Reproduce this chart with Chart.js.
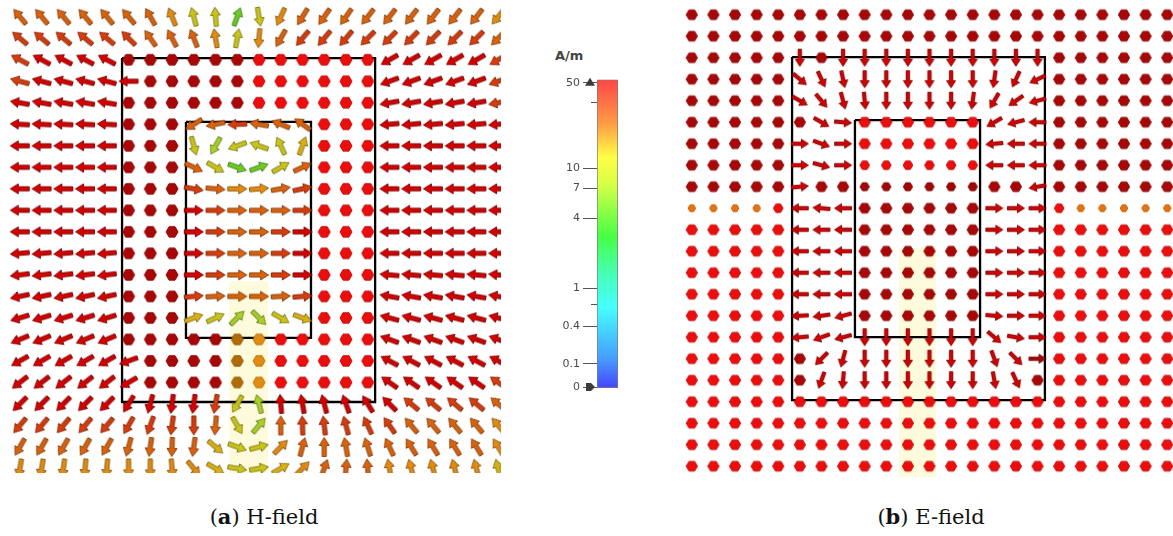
<!DOCTYPE html>
<html>
<head>
<meta charset="utf-8">
<script src="https://cdn.jsdelivr.net/npm/chart.js@4.4.1/dist/chart.umd.min.js"></script>
<style>
  html, body { margin: 0; padding: 0; background: #fff; }
  #wrap { position: relative; width: 1173px; height: 536px; overflow: hidden; }
  #wrap canvas { position: absolute; }
  .cap { position: absolute; top: 504px; font: 21px "DejaVu Serif", serif; color: #111; transform: translateX(-50%); white-space: nowrap; }
  #unit { position: absolute; left: 555px; top: 48px; font: bold 13px "DejaVu Sans", sans-serif; color: #444; }
</style>
</head>
<body>
<div id="wrap">
  <canvas id="hField" width="492" height="467" style="left:9px; top:6px"></canvas>
  <canvas id="colorBar" width="80" height="330" style="left:545px; top:70px"></canvas>
  <canvas id="eField" width="497" height="473" style="left:681px; top:4px"></canvas>
  <div id="unit">A/m</div>
  <div class="cap" style="left:264px">(<b>a</b>) H-field</div>
  <div class="cap" style="left:931px">(<b>b</b>) E-field</div>
</div>
<script>
// arrow direction per grid cell, degrees counter-clockwise from +x; null = dot (field normal to the plane)
const N = null;

// H-field, 22 rows x 23 columns
const hAngles = [
  [130,130,130,130,130,130,120,112,105,95,70,280,245,238,235,235,232,232,232,232,232,232,230],
  [140,140,140,140,140,135,125,118,112,100,80,265,240,230,230,230,225,225,225,225,225,225,225],
  [152,152,152,152,152,N,N,N,N,N,N,N,N,N,N,N,N,210,210,210,210,210,210],
  [165,165,165,165,165,180,N,N,N,N,N,N,N,N,N,N,N,200,200,200,200,200,200],
  [170,170,170,170,170,N,N,N,N,N,N,N,N,N,N,N,N,190,190,190,190,190,190],
  [177,177,177,177,177,N,N,N,212,192,182,170,158,145,N,N,N,185,185,185,185,185,185],
  [180,180,180,180,180,N,N,N,285,240,200,160,115,70,N,N,N,180,180,180,180,180,180],
  [180,180,180,180,180,N,N,N,335,330,340,20,30,25,N,N,N,180,180,180,180,180,180],
  [180,180,180,180,180,N,N,N,350,355,0,5,10,12,N,N,N,180,180,180,180,180,180],
  [180,180,180,180,180,N,N,N,0,0,0,0,0,0,N,N,N,180,180,180,180,180,180],
  [180,180,180,180,180,N,N,N,0,0,0,0,0,0,N,N,N,180,180,180,180,180,180],
  [185,185,185,185,185,N,N,N,0,0,0,0,0,0,N,N,N,180,180,180,180,180,180],
  [187,187,187,187,187,N,N,N,0,0,0,0,0,0,N,N,N,175,175,175,175,175,175],
  [192,192,192,192,192,N,N,N,5,3,0,0,3,5,N,N,N,170,170,170,170,170,170],
  [197,197,197,197,197,N,N,N,20,25,45,315,330,340,N,N,N,165,165,165,165,165,165],
  [203,203,203,203,203,N,N,N,N,N,N,N,N,N,N,N,N,160,160,160,160,160,160],
  [210,210,210,210,210,200,N,N,N,N,N,N,N,N,N,N,N,152,152,152,152,152,152],
  [218,218,218,218,218,210,N,N,N,N,N,N,N,N,N,N,N,145,145,145,145,145,145],
  [225,225,225,225,225,238,255,262,262,260,240,105,95,100,105,110,122,135,140,140,140,140,140],
  [230,230,230,230,230,240,250,262,270,265,300,50,90,92,97,105,115,125,130,130,130,130,130],
  [240,240,240,240,240,255,262,268,262,320,340,15,45,75,90,100,108,115,122,122,122,122,122],
  [260,260,262,265,265,270,270,275,310,330,350,10,30,45,70,85,95,100,105,105,105,105,105]
];
// magnitude class per cell (see levelColors)
const hLevels = [
  'OOOOOOOoYYgYoOOOOOOOOOo',
  'rrrrrrOOOoYoOrrrrrrrrrO',
  'rRRRRDDDDDDBBBBBBRRRRRr',
  'rRRRRRDDDDDBBBBBBRRRRRr',
  'RRRRRDDDDDDBBBBBBRRRRRr',
  'RRRRRDDDOOrOOOBBBRRRRRR',
  'RRRRRDDDYGYYYyBBBRRRRRR',
  'RRRRRDDDOYggYOBBBRRRRRR',
  'RRRRRDDDrOooOrBBBRRRRRR',
  'RRRRRDDDRrOOOrBBBRRRRRR',
  'RRRRRDDDRrOOrRBBBRRRRRR',
  'RRRRRDDDRrOOrRBBBRRRRRR',
  'RRRRRDDDRrOOrRBBBRRRRRR',
  'RRRRRDDDrOOOOrBBBRRRRRR',
  'RRRRRDDDyYGGYyBBBRRRRRR',
  'RRRRRDDDDDLoBBBBBRRRRRR',
  'RRRRRRDDDDLoBBBBBRRRRRR',
  'RRRRRRDDDDLoBBBBBRRRRRr',
  'RRRRRRRRRrYGRRRRRRrrrrO',
  'rrrrrrrrrOYGOrrrrrOOOOo',
  'OOOOOOOOOyYYoOOOOOOOOOo',
  'oooooooooyYYyoOOOoooooy'
];

// E-field, 22 rows x 23 columns
const eAngles = [
  [N,N,N,N,N,N,N,N,N,N,N,N,N,N,N,N,N,N,N,N,N,N,N],
  [N,N,N,N,N,N,N,N,N,N,N,N,N,N,N,N,N,N,N,N,N,N,N],
  [N,N,N,N,N,270,N,270,270,270,270,270,270,270,270,270,270,N,N,N,N,N,N],
  [N,N,N,N,N,320,295,282,270,270,270,270,270,270,262,245,205,N,N,N,N,N,N],
  [N,N,N,N,N,330,310,285,275,270,270,270,270,262,240,215,195,N,N,N,N,N,N],
  [N,N,N,N,N,N,330,355,N,N,N,N,N,N,210,195,180,N,N,N,N,N,N],
  [N,N,N,N,N,0,340,0,N,N,N,N,N,N,185,180,180,N,N,N,N,N,N],
  [N,N,N,N,N,0,345,0,N,N,N,N,N,N,180,180,180,N,N,N,N,N,N],
  [N,N,N,N,N,5,N,N,N,N,N,N,N,N,N,N,190,N,N,N,N,N,N],
  [N,N,N,N,N,180,175,180,N,N,N,N,N,N,0,0,0,N,N,N,N,N,N],
  [N,N,N,N,N,180,180,180,N,N,N,N,N,N,0,0,0,N,N,N,N,N,N],
  [N,N,N,N,N,180,180,180,N,N,N,N,N,N,0,0,0,N,N,N,N,N,N],
  [N,N,N,N,N,180,180,180,N,N,N,N,N,N,0,0,0,N,N,N,N,N,N],
  [N,N,N,N,N,180,180,180,N,N,N,N,N,N,0,0,0,N,N,N,N,N,N],
  [N,N,N,N,N,183,188,195,N,N,N,N,N,N,355,0,0,N,N,N,N,N,N],
  [N,N,N,N,N,185,200,195,270,270,270,270,270,270,320,350,0,N,N,N,N,N,N],
  [N,N,N,N,N,N,225,255,270,270,270,270,270,270,290,315,0,N,N,N,N,N,N],
  [N,N,N,N,N,N,250,265,270,270,270,270,270,270,280,295,N,N,N,N,N,N,N],
  [N,N,N,N,N,N,N,N,N,N,N,N,N,N,N,N,N,N,N,N,N,N,N],
  [N,N,N,N,N,N,N,N,N,N,N,N,N,N,N,N,N,N,N,N,N,N,N],
  [N,N,N,N,N,N,N,N,N,N,N,N,N,N,N,N,N,N,N,N,N,N,N],
  [N,N,N,N,N,N,N,N,N,N,N,N,N,N,N,N,N,N,N,N,N,N,N]
];
const eLevels = [
  'DDDDDDDDDDDDDDDDDDDDDDD',
  'DDDDDDDDDDDDDDDDDDDDDDD',
  'DDDDDRDRRRRRRRRRRDDDDDD',
  'DDDDDRRRRRRRRRRRRDDDDDD',
  'DDDDDRRRRRRRRRRRRDDDDDD',
  'DDDDDDRRBBBBBBRRRDDDDDD',
  'DDDDDRRRBBBBBBRRRDDDDDD',
  'DDDDDRRRbbbbbbRRRDDDDDD',
  'DDDDDRDDssssssDDRDDDDDD',
  'SSSSbRRRDDDDDDRRRbSSSSS',
  'BBBBBRRRDDDDDDRRRBBBBBB',
  'BBBBBRRRDDDDDDRRRBBBBBB',
  'BBBBBRRRDDDDDDRRRBBBBBB',
  'BBBBBRRRDDDDDDRRRBBBBBB',
  'BBBBBRRRDDDDDDRRRBBBBBB',
  'BBBBBRRRRRRRRRRRRBBBBBB',
  'BBBBBDRRRRRRRRRRDBBBBBB',
  'BBBBBDRRRRRRRRRRDBBBBBB',
  'BBBBBBBBBBBBBBBBBBBBBBB',
  'BBBBBBBBBBBBBBBBBBBBBBB',
  'BBBBBBBBBBBBBBBBBBBBBBB',
  'BBBBBBBBBBBBBBBBBBBBBBB'
];

// outlines [x0, x1, y0, y1] and highlight strip, in grid units
const hOuter = [4.70, 16.34, 1.92, 17.91];
const hInner = [7.64, 13.39, 4.89, 14.93];
const hStrip = [9.62, 11.42, 12.3, 21.3];
const eOuter = [4.64, 16.34, 1.97, 17.92];
const eInner = [7.55, 13.34, 4.90, 14.99];
const eStrip = [9.59, 11.30, 10.85, 21.6];

// colour bar
const barLabels = ['50', '', '10', '7', '4', '1', '', '0.4', '0.1', '0'];
const barLevels = [0.99, 0.926, 0.712, 0.647, 0.55, 0.324, 0.272, 0.2, 0.078, 0.003];

const levelColors = {
  D: '#a80707', R: '#d20202', B: '#ec0d0d', r: '#d63c0c', O: '#d9620e', o: '#e28b12',
  y: '#d9b014', Y: '#c9c41c', G: '#a8d02a', g: '#6ccc24', L: '#b06c08',
  S: '#e8720e', s: '#a00808', b: '#ec0d0d'
};
const dotRadius = { S: 3.8, s: 4.6, b: 4.8 };
const gradStops = [
  [0, '#4646ff'], [0.1, '#46a0ff'], [0.262, '#46ffff'], [0.372, '#46ffb4'],
  [0.489, '#46ff46'], [0.663, '#d8ff46'], [0.748, '#ffff46'], [0.857, '#ff9c46'], [1, '#ff4646']
];

function shade(hex, f) {
  const n = parseInt(hex.slice(1), 16);
  const ch = (v) => Math.round(v * f);
  return `rgb(${ch(n >> 16)},${ch((n >> 8) & 255)},${ch(n & 255)})`;
}

function makeArrow(color, d) {
  const c = document.createElement('canvas');
  c.width = 26; c.height = 26;
  const g = c.getContext('2d');
  g.translate(13, 13);
  const L = d.len / 2;
  g.beginPath();
  g.moveTo(L, 0);
  g.lineTo(L - d.hl, -d.hw);
  g.lineTo(L - d.hl, -d.sw);
  g.lineTo(-L, -d.sw);
  g.lineTo(-L, d.sw);
  g.lineTo(L - d.hl, d.sw);
  g.lineTo(L - d.hl, d.hw);
  g.closePath();
  g.fillStyle = color;
  g.fill();
  g.lineWidth = 0.9;
  g.strokeStyle = shade(color, 0.6);
  g.stroke();
  return c;
}

function makeDot(color, r) {
  const s = Math.ceil(r * 2 + 4);
  const c = document.createElement('canvas');
  c.width = s; c.height = s;
  const g = c.getContext('2d');
  g.translate(s / 2, s / 2);
  g.beginPath();
  for (let i = 0; i < 6; i++) {
    const t = i * Math.PI / 3;
    g.lineTo(r * Math.cos(t), r * Math.sin(t));
  }
  g.closePath();
  g.fillStyle = color;
  g.fill();
  g.lineWidth = 1;
  g.strokeStyle = shade(color, 0.85);
  g.stroke();
  return c;
}

const sprites = {};
function sprite(k, isDot, d) {
  const key = k + (isDot ? 'dot' : 'arr') + d.len;
  if (!sprites[key]) {
    sprites[key] = isDot ? makeDot(levelColors[k], dotRadius[k] || d.dot) : makeArrow(levelColors[k], d);
  }
  return sprites[key];
}

function gridPoints(angles, levels) {
  const pts = [];
  angles.forEach((row, r) => row.forEach((a, c) => {
    pts.push({ x: c, y: r, a: a, k: levels[r][c] || 'R' });
  }));
  return pts;
}

function rectLine(b) {
  return [{ x: b[0], y: b[2] }, { x: b[1], y: b[2] }, { x: b[1], y: b[3] }, { x: b[0], y: b[3] }, { x: b[0], y: b[2] }];
}

function fieldChart(id, angles, levels, outer, inner, strip, view, dims) {
  const box = (b) => ({
    data: rectLine(b), showLine: true, borderColor: '#000', borderWidth: 2.3,
    borderJoinStyle: 'miter', pointRadius: 0, fill: false, order: 2
  });
  return new Chart(document.getElementById(id), {
    type: 'scatter',
    data: {
      datasets: [
        {
          data: gridPoints(angles, levels),
          pointStyle: (c) => sprite(c.raw.k, c.raw.a === null, dims),
          rotation: (c) => (c.raw.a === null ? 0 : -c.raw.a),
          pointRadius: 10,
          order: 1
        },
        box(outer),
        box(inner),
        {
          data: [{ x: strip[0], y: strip[2] }, { x: strip[1], y: strip[2] }],
          showLine: true, borderWidth: 0, pointRadius: 0,
          backgroundColor: '#fdfbdb', fill: { value: strip[3] }, order: 3
        }
      ]
    },
    options: {
      responsive: false,
      animation: false,
      devicePixelRatio: 1,
      layout: { padding: 0, autoPadding: false },
      plugins: { legend: { display: false }, tooltip: { enabled: false } },
      scales: {
        x: { type: 'linear', display: false, min: view[0], max: view[1] },
        y: { type: 'linear', display: false, reverse: true, min: view[2], max: view[3] }
      }
    }
  });
}

fieldChart('hField', hAngles, hLevels, hOuter, hInner, hStrip, [-0.5, 22.13, -0.5, 21.21],
  { len: 19, hw: 5, hl: 8, sw: 2.1, dot: 6 });
fieldChart('eField', eAngles, eLevels, eOuter, eInner, eStrip, [-0.5, 22.5, -0.5, 21.5],
  { len: 17, hw: 4.5, hl: 7, sw: 1.7, dot: 5.6 });

// end markers and short minor ticks on the colour bar axis
const barMarks = {
  id: 'barMarks',
  afterDraw(chart) {
    const { ctx, chartArea } = chart;
    const y = chart.scales.y;
    const x = chartArea.left - 7;
    ctx.save();
    ctx.fillStyle = '#3c3c3c';
    let py = y.getPixelForValue(barLevels[0]);
    ctx.beginPath();
    ctx.moveTo(x, py - 5); ctx.lineTo(x + 5, py + 3); ctx.lineTo(x - 5, py + 3);
    ctx.closePath(); ctx.fill();
    py = y.getPixelForValue(barLevels[barLevels.length - 1]);
    ctx.beginPath();
    ctx.moveTo(x - 4, py - 4); ctx.lineTo(x + 1, py - 4); ctx.lineTo(x + 5, py);
    ctx.lineTo(x + 1, py + 4); ctx.lineTo(x - 4, py + 4);
    ctx.closePath(); ctx.fill();
    ctx.strokeStyle = '#555';
    ctx.lineWidth = 1;
    barLevels.forEach((v, i) => {
      if (barLabels[i]) return;
      const ty = Math.round(y.getPixelForValue(v)) + 0.5;
      ctx.beginPath();
      ctx.moveTo(chartArea.left - 6, ty); ctx.lineTo(chartArea.left, ty);
      ctx.stroke();
    });
    ctx.restore();
  }
};

new Chart(document.getElementById('colorBar'), {
  type: 'bar',
  data: {
    labels: ['A/m'],
    datasets: [{
      data: [[0, 1]],
      barPercentage: 1,
      categoryPercentage: 1,
      borderWidth: 1,
      borderColor: '#7a7a7a',
      borderSkipped: false,
      backgroundColor: (c) => {
        const area = c.chart.chartArea;
        if (!area) return '#ccc';
        const g = c.chart.ctx.createLinearGradient(0, area.bottom, 0, area.top);
        gradStops.forEach(([p, col]) => g.addColorStop(p, col));
        return g;
      }
    }]
  },
  options: {
    responsive: false,
    animation: false,
    devicePixelRatio: 1,
    layout: { padding: { top: 9, bottom: 12, right: 7, left: 0 }, autoPadding: false },
    plugins: { legend: { display: false }, tooltip: { enabled: false } },
    scales: {
      x: { display: false },
      y: {
        min: 0, max: 1,
        afterFit: (s) => { s.width = 52; },
        afterBuildTicks: (s) => { s.ticks = barLevels.map((v) => ({ value: v })); },
        border: { display: false },
        grid: {
          drawOnChartArea: false, tickLength: 14,
          tickColor: (c) => (barLabels[c.index] ? '#555' : 'rgba(0,0,0,0)')
        },
        ticks: {
          autoSkip: false, padding: 3, color: '#4a4a4a',
          font: { family: 'DejaVu Sans', size: 11 },
          callback: (v, i) => barLabels[i]
        }
      }
    }
  },
  plugins: [barMarks]
});
</script>
</body>
</html>
